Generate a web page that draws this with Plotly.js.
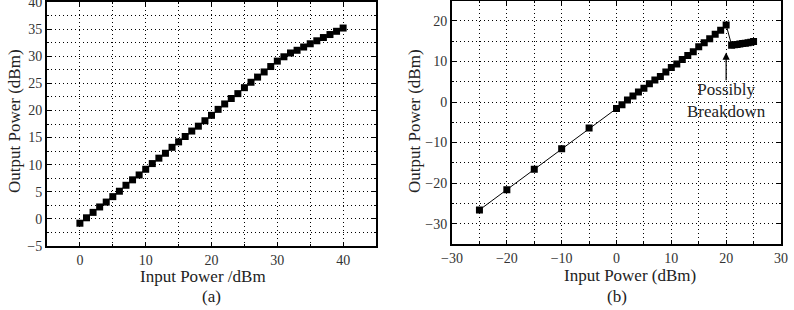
<!DOCTYPE html>
<html><head><meta charset="utf-8">
<script src="https://cdn.plot.ly/plotly-3.0.1.min.js"></script>
<style>html,body{margin:0;padding:0;background:#fff}#chart{width:794px;height:310px}</style>
</head><body><div id="chart"></div>
<script>
// (a) data
const inA = [0,1,2,3,4,5,6,7,8,9,10,11,12,13,14,15,16,17,18,19,20,21,22,23,24,25,26,27,28,29,30,31,32,33,34,35,36,37,38,39,40];
const outA = [-0.8,0.2,1.2,2.2,3.1,4.1,5.1,6.2,7.2,8.1,9.15,10.2,11.2,12.1,13.2,14.2,15.2,16.2,17.1,18.1,19.1,20.2,21.2,22.2,23.1,24.2,25.2,26.15,27.1,28.1,29.1,29.9,30.6,31.1,31.7,32.3,32.85,33.45,34.0,34.6,35.2];
// (b) data
const inB = [-25,-20,-15,-10,-5,0,1,2,3,4,5,6,7,8,9,10,11,12,13,14,15,16,17,18,19,20,21,21.5,22,22.5,23,23.5,24,24.5,25];
const outB = [-26.6,-21.6,-16.6,-11.5,-6.4,-1.6,-0.65,0.5,1.5,2.5,3.4,4.5,5.4,6.3,7.4,8.5,9.4,10.5,11.5,12.4,13.6,14.6,15.6,16.7,17.7,19.0,14.0,14.1,14.2,14.3,14.4,14.5,14.6,14.75,14.9];

const serif = "Liberation Serif, Times New Roman, serif";
const tickFont = {family: serif, size: 14, color: '#333'};
const dotted = '1px,3px';

function ax(range, dtick, minorDtick, domain, anchor) {
  return {
    range: range, domain: domain, anchor: anchor,
    tick0: 0, dtick: dtick, tickmode: 'linear',
    showline: true, mirror: 'ticks', linewidth: 2, linecolor: '#000',
    ticks: 'inside', ticklen: 4, tickwidth: 1, tickcolor: '#000',
    showgrid: true, gridcolor: '#000', gridwidth: 1, griddash: dotted,
    minor: {dtick: minorDtick, tick0: 0, showgrid: true, gridcolor: '#000', gridwidth: 1, griddash: dotted, ticks: 'inside', ticklen: 2, tickcolor: '#000'},
    zeroline: false, tickfont: tickFont, fixedrange: true, ticklabeloverflow: 'allow'
  };
}

const traces = [
  {x: inA, y: outA, xaxis: 'x', yaxis: 'y', type: 'scatter', mode: 'lines+markers',
   line: {color: '#000', width: 1}, marker: {symbol: 'square', size: 7, color: '#000'}},
  {x: inB, y: outB, xaxis: 'x2', yaxis: 'y2', type: 'scatter', mode: 'lines+markers',
   line: {color: '#000', width: 1}, marker: {symbol: 'square', size: 7, color: '#000'}}
];

const titleFont = {family: serif, size: 17, color: '#222'};
const layout = {
  width: 794, height: 310,
  margin: {l: 0, r: 0, t: 0, b: 0},
  paper_bgcolor: '#fff', plot_bgcolor: '#fff',
  showlegend: false,
  xaxis: ax([-5, 45], 10, 5, [0.0592, 0.4736], 'y'),
  yaxis: ax([-5, 40.001], 5, 2.5, [0.2065, 0.9935], 'x'),
  xaxis2: ax([-30.001, 30.001], 10, 5, [0.5693, 0.9836], 'y2'),
  yaxis2: ax([-35, 25], 10, 5, [0.2129, 0.998], 'x2'),
  annotations: [
    {text: 'Input Power /dBm', xref: 'paper', yref: 'paper', x: 203/794, y: 1 - 276.5/310, showarrow: false, font: titleFont, xanchor: 'center', yanchor: 'middle'},
    {text: 'Input Power (dBm)', xref: 'paper', yref: 'paper', x: 630/794, y: 1 - 275/310, showarrow: false, font: titleFont, xanchor: 'center', yanchor: 'middle'},
    {text: '(a)', xref: 'paper', yref: 'paper', x: 211/794, y: 1 - 296/310, showarrow: false, font: titleFont, xanchor: 'center', yanchor: 'middle'},
    {text: '(b)', xref: 'paper', yref: 'paper', x: 617/794, y: 1 - 296/310, showarrow: false, font: titleFont, xanchor: 'center', yanchor: 'middle'},
    {text: 'Output Power (dBm)', xref: 'paper', yref: 'paper', x: 14/794, y: 1 - 121/310, showarrow: false, font: titleFont, textangle: -90, xanchor: 'center', yanchor: 'middle'},
    {text: 'Output Power (dBm)', xref: 'paper', yref: 'paper', x: 414/794, y: 1 - 121/310, showarrow: false, font: titleFont, textangle: -90, xanchor: 'center', yanchor: 'middle'},
    {text: '', xref: 'x2', yref: 'y2', x: 20, y: 12.2, axref: 'x2', ayref: 'y2', ax: 20, ay: 5,
     showarrow: true, arrowhead: 2, arrowsize: 1.2, arrowwidth: 1.2, arrowcolor: '#000'},
    {text: 'Possibly<br>Breakdown', xref: 'x2', yref: 'y2', x: 20, y: 0.3, showarrow: false,
     font: {family: serif, size: 17, color: '#222'}, xanchor: 'center', yanchor: 'middle', align: 'center'}
  ]
};
Plotly.newPlot('chart', traces, layout, {staticPlot: true, displayModeBar: false});
</script></body></html>
